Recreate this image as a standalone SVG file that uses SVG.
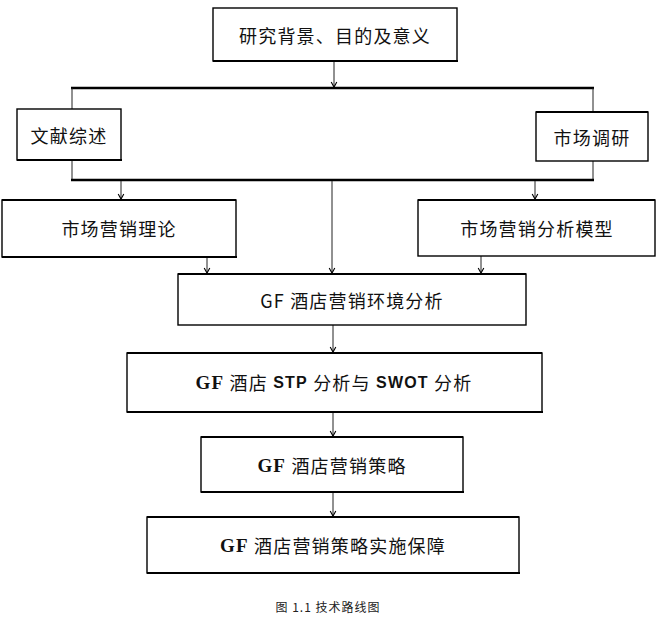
<svg xmlns="http://www.w3.org/2000/svg" width="668" height="617" viewBox="0 0 668 617">
<style>
.box{fill:#fff;stroke:#000;stroke-width:1.4}
.bb{stroke:#000;stroke-width:2.2}
.t{font-family:"Noto Sans CJK SC","Liberation Sans",sans-serif;font-size:18px;letter-spacing:1.2px;fill:#111;text-anchor:middle;dominant-baseline:central}
.gf{font-family:"Liberation Serif",serif;font-weight:bold}
.en{font-family:"Liberation Sans",sans-serif;font-weight:bold;font-size:16px}
.ln{stroke:#222;stroke-width:1;fill:none}
.hb{stroke:#000;stroke-width:2.5;fill:none}
.cap{font-family:"Noto Sans CJK SC",sans-serif;font-size:12px;letter-spacing:1px;fill:#222;text-anchor:middle;dominant-baseline:central}
</style>
<defs>
<marker id="ah" markerUnits="userSpaceOnUse" markerWidth="8" markerHeight="8" refX="6" refY="4" orient="auto" viewBox="0 0 8 8">
<path d="M1,1.2 L6,4 L1,6.8" fill="none" stroke="#000" stroke-width="1.1"/>
</marker>
</defs>
<g id="connectors">
<line class="ln" x1="334" y1="61" x2="334" y2="87" marker-end="url(#ah)"/>
<line class="hb" x1="71" y1="88" x2="594" y2="88"/>
<line class="ln" x1="72" y1="88" x2="72" y2="109"/>
<line class="ln" x1="593" y1="88" x2="593" y2="112"/>
<line class="ln" x1="72" y1="160" x2="72" y2="180"/>
<line class="ln" x1="593" y1="161" x2="593" y2="180"/>
<line class="hb" x1="71" y1="180" x2="594" y2="180"/>
<line class="ln" x1="121" y1="181" x2="121" y2="199" marker-end="url(#ah)"/>
<line class="ln" x1="535" y1="181" x2="535" y2="199" marker-end="url(#ah)"/>
<line class="ln" x1="332" y1="181" x2="332" y2="273" marker-end="url(#ah)"/>
<line class="ln" x1="207" y1="258" x2="207" y2="273" marker-end="url(#ah)"/>
<line class="ln" x1="481" y1="256" x2="481" y2="273" marker-end="url(#ah)"/>
<line class="ln" x1="333" y1="325" x2="333" y2="352" marker-end="url(#ah)"/>
<line class="ln" x1="333" y1="413" x2="333" y2="436" marker-end="url(#ah)"/>
<line class="ln" x1="333" y1="493" x2="333" y2="516" marker-end="url(#ah)"/>
</g>
<g id="n1"><rect class="box" x="213" y="8" width="244" height="53"/><line class="bb" x1="213" y1="61" x2="458" y2="61"/><text class="t" x="335" y="35">研究背景、目的及意义</text></g>
<g id="n2"><rect class="box" x="17" y="109" width="104" height="51"/><line class="bb" x1="17" y1="160" x2="122" y2="160"/><text class="t" x="69" y="135">文献综述</text></g>
<g id="n3"><rect class="box" x="536" y="112" width="112" height="49"/><line class="bb" x1="536" y1="112" x2="648" y2="112"/><text class="t" x="592" y="137">市场调研</text></g>
<g id="n4"><rect class="box" x="2" y="200" width="234" height="57"/><line class="bb" x1="2" y1="200" x2="236" y2="200"/><line class="bb" x1="2" y1="257" x2="237" y2="257"/><text class="t" x="119" y="228">市场营销理论</text></g>
<g id="n5"><rect class="box" x="418" y="200" width="237" height="56"/><line class="bb" x1="418" y1="200" x2="655" y2="200"/><text class="t" x="537" y="228">市场营销分析模型</text></g>
<g id="n6"><rect class="box" x="178" y="274" width="348" height="51"/><line class="bb" x1="178" y1="274" x2="526" y2="274"/><text class="t" x="352" y="300">GF 酒店营销环境分析</text></g>
<g id="n7"><rect class="box" x="127" y="353" width="415" height="59"/><line class="bb" x1="127" y1="353" x2="542" y2="353"/><line class="bb" x1="127" y1="412" x2="543" y2="412"/><text class="t" x="334" y="382"><tspan class="gf" font-size="19px">GF</tspan> 酒店 <tspan class="en">STP</tspan> 分析与 <tspan class="en">SWOT</tspan> 分析</text></g>
<g id="n8"><rect class="box" x="201" y="437" width="262" height="55"/><line class="bb" x1="201" y1="437" x2="463" y2="437"/><line class="bb" x1="201" y1="492" x2="464" y2="492"/><text class="t" x="332" y="465"><tspan class="gf" font-size="19px">GF</tspan> 酒店营销策略</text></g>
<g id="n9"><rect class="box" x="147" y="517" width="372" height="56"/><line class="bb" x1="147" y1="517" x2="519" y2="517"/><line class="bb" x1="147" y1="573" x2="520" y2="573"/><text class="t" x="333" y="545"><tspan class="gf" font-size="19px">GF</tspan> 酒店营销策略实施保障</text></g>
<text class="cap" x="328" y="606">图 1.1 技术路线图</text>
</svg>
